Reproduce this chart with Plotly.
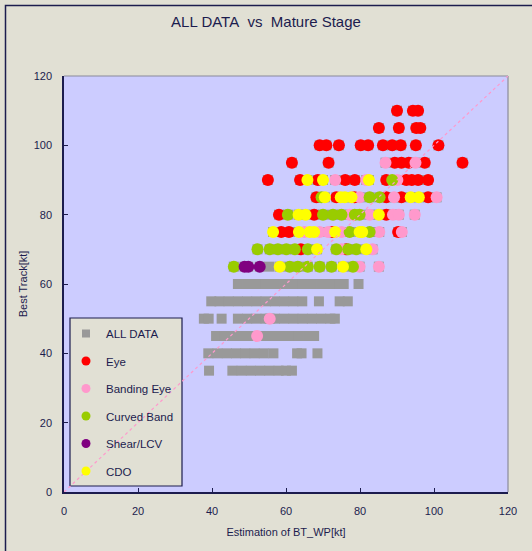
import plotly.graph_objects as go

# ---------------- data (kt) ----------------
# ALL DATA rows that carry no stage colour
gray_x = [47.0, 49.5, 52.0, 54.5, 57.0, 59.5, 62.0, 64.5, 67.0, 69.5, 72.0, 74.5, 75.6, 79.6,
          39.8, 42.0, 44.5, 47.0, 49.5, 52.0, 54.5, 57.0, 59.5, 62.0, 64.4, 68.9, 74.5, 76.7,
          37.8, 39.1, 42.6, 47.0, 49.5, 52.0, 54.5, 57.0, 59.5, 62.0, 64.5, 67.0, 69.5, 72.0, 73.2,
          41.1, 43.5, 46.0, 48.5, 51.0, 53.5, 56.0, 58.5, 61.0, 63.5, 66.0, 67.6,
          39.0, 41.5, 44.0, 46.5, 49.0, 51.5, 54.0, 56.6, 63.0, 64.2, 68.5,
          39.2, 45.5, 48.0, 50.5, 53.0, 55.5, 58.0, 60.0, 61.6,
          55.5]
gray_y = [60] * 14 + [55] * 14 + [50] * 15 + [45] * 12 + [40] * 11 + [35] * 9 + [65]

eye_x = [90.0, 94.3, 95.7,
         85.1, 90.5, 95.2, 96.3,
         69.1, 70.9, 74.3, 80.2, 82.2, 86.2, 88.7, 91.0, 95.1, 101.2,
         61.6, 71.5, 89.4, 91.2, 93.2, 97.5, 107.7,
         55.1, 63.8, 68.6, 76.0, 78.6, 87.1, 92.5, 94.0, 95.7, 98.4,
         68.2, 73.6, 78.5, 87.1, 91.2, 98.4,
         58.1, 67.6, 87.1,
         58.7, 60.8, 72.5, 90.3,
         64.0, 76.3]
eye_y = [110] * 3 + [105] * 4 + [100] * 10 + [95] * 7 + [90] * 10 + [85] * 6 + [80] * 3 + [75] * 4 + [70] * 2

band_eye_x = [86.9, 95.0,
              73.3, 81.7, 90.1,
              79.9, 89.2, 100.7,
              77.2, 82.6, 88.9, 90.5, 94.8,
              65.0, 69.1, 71.4, 75.0, 85.2, 91.3,
              75.0, 83.4,
              79.9, 85.1,
              55.6,
              52.2]
band_eye_y = [95] * 2 + [90] * 3 + [85] * 3 + [80] * 5 + [75] * 6 + [70] * 2 + [65] * 2 + [50] + [45]

curved_x = [88.7,
            69.6, 82.6, 85.3,
            60.5, 70.0, 72.7, 75.0, 78.6, 79.9,
            77.2, 82.6,
            52.3, 55.6, 57.8, 60.1, 62.4, 65.9, 73.6, 76.8, 79.0,
            45.9, 61.0, 63.2, 65.9, 69.1, 72.3, 78.1]
curved_y = [90] + [85] * 3 + [80] * 6 + [75] * 2 + [70] * 9 + [65] * 7

shear_x = [48.8, 49.8, 52.9]
shear_y = [65, 65, 65]

cdo_x = [65.8, 70.0, 82.4,
         70.5, 74.8, 75.9, 77.7, 93.7, 95.9,
         63.4, 65.3, 85.1,
         56.5, 63.5, 66.4, 67.6, 73.3, 79.9, 80.6,
         68.4, 81.7,
         58.3, 75.4]
cdo_y = [90] * 3 + [85] * 6 + [80] * 3 + [75] * 7 + [70] * 2 + [65] * 2

series_names = ["ALL DATA", "Eye", "Banding Eye", "Curved Band", "Shear/LCV", "CDO"]
ticks = [0, 20, 40, 60, 80, 100, 120]

# ---------------- styling ----------------
NAVY = "#1c1c4e"
PAPER = "#E1E0D4"
PLOTBG = "#CCCCFF"
FONT = "Liberation Sans"

W, H = 532, 551
L, R, T, B = 64, 24, 76, 59
pw, ph = W - L - R, H - T - B


def px_to_paper_x(px):
    return (px - L) / pw


def px_to_paper_y(py):
    return (H - B - py) / ph


all_x = gray_x + eye_x + band_eye_x + curved_x + shear_x + cdo_x
all_y = gray_y + eye_y + band_eye_y + curved_y + shear_y + cdo_y

colors = ["#999999", "#FF0000", "#FF99CC", "#99CC00", "#800080", "#FFFF00"]
symbols = ["square", "circle", "circle", "circle", "circle", "circle"]
xs = [all_x, eye_x, band_eye_x, curved_x, shear_x, cdo_x]
ys = [all_y, eye_y, band_eye_y, curved_y, shear_y, cdo_y]
sizes = [10, 12, 12, 12, 12, 12]
legend_sizes = [8, 9, 9, 9, 9, 9]

fig = go.Figure()
for i in range(6):
    fig.add_trace(go.Scatter(x=xs[i], y=ys[i], mode="markers", name=series_names[i],
                             legendgroup="g%d" % i, showlegend=False,
                             marker=dict(symbol=symbols[i], size=sizes[i], color=colors[i],
                                         line=dict(width=0))))
# legend entries (smaller symbols as in the original legend)
for i in range(6):
    fig.add_trace(go.Scatter(x=[None], y=[None], mode="markers", name=series_names[i],
                             legendgroup="g%d" % i, showlegend=True,
                             marker=dict(symbol=symbols[i], size=legend_sizes[i], color=colors[i],
                                         line=dict(width=0))))

shapes = [
    # outer frame (top and left visible)
    dict(type="rect", xref="paper", yref="paper",
         x0=px_to_paper_x(5.5), y0=px_to_paper_y(5.5), x1=px_to_paper_x(560), y1=px_to_paper_y(580),
         line=dict(color=NAVY, width=1.5), fillcolor="rgba(0,0,0,0)", layer="below"),
    # top and right border of plot area
    dict(type="line", xref="paper", yref="paper", x0=0, y0=1, x1=1, y1=1,
         line=dict(color="#8a8a9a", width=1.2)),
    dict(type="line", xref="paper", yref="paper", x0=1, y0=0, x1=1, y1=1,
         line=dict(color="#8a8a9a", width=1.2)),
    # legend box
    dict(type="rect", xref="paper", yref="paper",
         x0=px_to_paper_x(70), y0=px_to_paper_y(318), x1=px_to_paper_x(182), y1=px_to_paper_y(486),
         line=dict(color=NAVY, width=1.2), fillcolor=PAPER, layer="above"),
    # y = x reference line
    dict(type="line", xref="x", yref="y", x0=0, y0=0, x1=120, y1=120,
         line=dict(color="#FF99CC", width=1.2, dash="3px,3px")),
]

fig.update_layout(
    width=W, height=H,
    margin=dict(l=L, r=R, t=T, b=B, pad=0),
    paper_bgcolor=PAPER, plot_bgcolor=PLOTBG,
    font=dict(family=FONT, size=11, color=NAVY),
    title=dict(text="ALL DATA\u00a0\u00a0vs\u00a0\u00a0Mature Stage", x=0.5, xanchor="center",
               y=1 - 22 / H, yanchor="middle", font=dict(size=15, color=NAVY, family=FONT)),
    showlegend=True,
    legend=dict(x=px_to_paper_x(66), y=px_to_paper_y(319), xanchor="left", yanchor="top",
                bgcolor="rgba(0,0,0,0)", borderwidth=0, tracegroupgap=8.5,
                font=dict(size=11.5, color=NAVY, family=FONT), itemsizing="trace",
                itemwidth=30),
    shapes=shapes,
)
fig.update_xaxes(range=[0, 120], tickvals=ticks, showgrid=False, zeroline=False,
                 showline=True, linecolor=NAVY, linewidth=1.5,
                 ticks="inside", ticklen=4, tickcolor=NAVY, ticklabelstandoff=8,
                 title=dict(text="Estimation of BT_WP[kt]", font=dict(size=11, color=NAVY), standoff=12))
fig.update_yaxes(range=[0, 120], tickvals=ticks, showgrid=False, zeroline=False,
                 showline=True, linecolor=NAVY, linewidth=1.5,
                 ticks="inside", ticklen=4, tickcolor=NAVY, ticklabelstandoff=8,
                 title=dict(text="Best Track[kt]", font=dict(size=11, color=NAVY), standoff=4))

fig.write_html("out.html", config={"displayModeBar": False},
               post_script="document.body.style.margin='0';document.body.style.overflow='hidden';")
